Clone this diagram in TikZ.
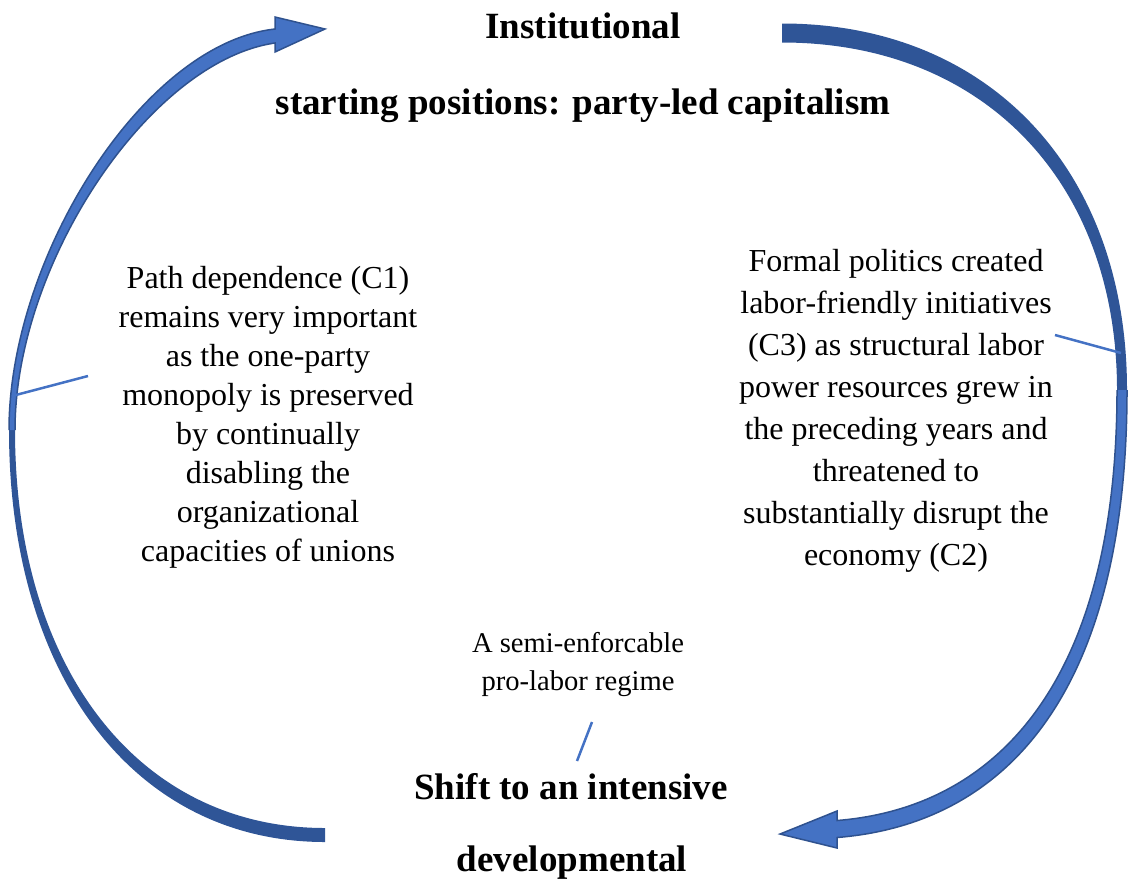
\documentclass[tikz,border=0pt]{standalone}
\usepackage{fontspec}
\setmainfont{Liberation Serif}
\definecolor{darkblue}{HTML}{2F5597}
\definecolor{lightblue}{HTML}{4472C4}
\definecolor{edgeblue}{HTML}{2F528F}
\begin{document}
\begin{tikzpicture}[x=0.5pt,y=-0.5pt,
  tailband/.style={fill=darkblue},
  headband/.style={fill=lightblue,draw=edgeblue,line width=0.75pt,line join=miter},
  title/.style={font=\fontsize{18.5}{22}\selectfont\bfseries,inner sep=0pt,anchor=base},
  body/.style={align=center,inner sep=0pt},
  pointer/.style={draw=lightblue,line width=1.25pt}]
\useasboundingbox (0,0) rectangle (1128,879);

% left curved arrow (tail at bottom, head at top)
\path[tailband] (325,842) .. controls (135,842) and (9,677) .. (9,430)
  -- (15,430) .. controls (15,669) and (139,828) .. (325,828) -- cycle;
\path[headband] (9,430) .. controls (9,258) and (143,43.5) .. (275,29)
  -- (275,17) -- (325,29) -- (275,52) -- (275,43)
  .. controls (150,61) and (15,263) .. (15,430);

% right curved arrow (tail at top, head at bottom)
\path[tailband] (782,23.5) .. controls (989,23.5) and (1127,170) .. (1127,390)
  -- (1117,390) .. controls (1117,181.5) and (983,42.5) .. (782,42.5) -- cycle;
\path[headband] (1127,390) .. controls (1127,685) and (1012,823.5) .. (837,837.5)
  -- (837,848) -- (780,834) -- (837,811) -- (837,820.5)
  .. controls (1002,807.3) and (1117,675) .. (1117,390);

% titles
\node[title] (t1) at (583,38) {Institutional};
\node[title] (t2) at (583,114) {starting positions: party-led capitalism};
\node[title] (b1) at (571,799) {Shift to an intensive};
\node[title] (b2) at (572,871) {developmental};

% text blocks
\node[body,font=\fontsize{16}{19.5}\selectfont] (left) at (268,417)
 {Path dependence (C1)\\remains very important\\as the one-party\\monopoly is preserved\\by continually\\disabling the\\organizational\\capacities of unions};
\node[body,font=\fontsize{16}{21}\selectfont] (right) at (896,410.5)
 {Formal politics created\\labor-friendly initiatives\\(C3) as structural labor\\power resources grew in\\the preceding years and\\threatened to\\substantially disrupt the\\economy (C2)};
\node[body,font=\fontsize{14.3}{19}\selectfont] (mid) at (578,664.5)
 {A semi-enforcable\\pro-labor regime};

% pointer lines
\coordinate (lp1) at (88,376);
\coordinate (lp2) at (12,396);
\coordinate (rp1) at (1055,335);
\coordinate (rp2) at (1121,353);
\coordinate (mp1) at (592,722);
\coordinate (mp2) at (577,761);
\draw[pointer] (lp1) -- (lp2);
\draw[pointer] (rp1) -- (rp2);
\draw[pointer] (mp1) -- (mp2);
\end{tikzpicture}
\end{document}
